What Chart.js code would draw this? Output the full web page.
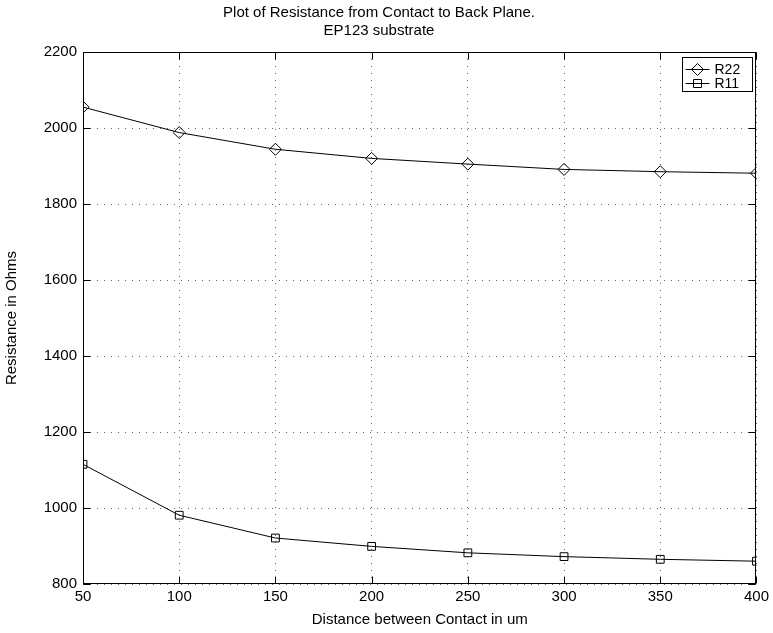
<!DOCTYPE html>
<html><head><meta charset="utf-8">
<script src="https://cdn.jsdelivr.net/npm/chart.js@4.4.1/dist/chart.umd.min.js"></script>
<style>html,body{margin:0;padding:0;background:#fff;overflow:hidden}#wrap{width:773px;height:633px}</style>
</head><body><div id="wrap"><canvas id="c" width="773" height="633"></canvas></div>
<script>
const distances = [50, 100, 150, 200, 250, 300, 350, 400];
const r22 = [2055, 1988, 1944, 1920, 1905, 1891, 1885, 1881];
const r11 = [1115, 981, 921, 899, 882, 872, 865, 860];
const xTicks = [50, 100, 150, 200, 250, 300, 350, 400];
const yTicks = [800, 1000, 1200, 1400, 1600, 1800, 2000, 2200];
const titleLines = ['Plot of Resistance from Contact to Back Plane.', 'EP123 substrate'];
const xTitle = 'Distance between Contact in um';
const yTitle = 'Resistance in Ohms';
const seriesNames = ['R22', 'R11'];

const FONT = "'Liberation Sans', Arial, Helvetica, sans-serif";
Chart.defaults.font.family = FONT;
Chart.defaults.color = '#000';

const toPts = arr => distances.map((d, i) => ({x: d, y: arr[i]}));

const frameAndLegend = {
  id: 'frameAndLegend',
  afterDraw(chart) {
    const ctx = chart.ctx, a = chart.chartArea;
    const xs = chart.scales.x, ys = chart.scales.y;
    const L = Math.round(a.left) + 0.5, R = Math.round(a.right) - 0.5;
    const T = Math.round(a.top) + 0.5, B = Math.round(a.bottom) - 0.5;
    ctx.save();
    ctx.strokeStyle = '#000';
    ctx.lineWidth = 1;
    ctx.setLineDash([]);
    ctx.strokeRect(L, T, R - L, B - T);
    const tl = 7;
    ctx.beginPath();
    xTicks.forEach(v => {
      const px = Math.round(xs.getPixelForValue(v)) + 0.5;
      ctx.moveTo(px, B); ctx.lineTo(px, B - tl);
      ctx.moveTo(px, T); ctx.lineTo(px, T + tl);
    });
    yTicks.forEach(v => {
      const py = Math.round(ys.getPixelForValue(v)) + 0.5;
      ctx.moveTo(L, py); ctx.lineTo(L + tl, py);
      ctx.moveTo(R, py); ctx.lineTo(R - tl, py);
    });
    ctx.stroke();

    // legend
    const bx = 682.5, by = 57.5, bw = 70, bh = 34;
    ctx.fillStyle = '#fff';
    ctx.fillRect(bx, by, bw, bh);
    ctx.strokeRect(bx, by, bw, bh);
    ctx.font = '14px ' + FONT;
    ctx.textBaseline = 'middle';
    ctx.textAlign = 'left';
    chart.data.datasets.forEach((ds, i) => {
      const cy = Math.round(by + 11 + i * 14) + 0.5;
      ctx.beginPath();
      ctx.moveTo(bx + 3, cy); ctx.lineTo(bx + 27, cy);
      ctx.stroke();
      const cx = bx + 15;
      ctx.beginPath();
      if (ds.pointStyle === 'rectRot') {
        const r = 6;
        ctx.moveTo(cx - r, cy); ctx.lineTo(cx, cy - r); ctx.lineTo(cx + r, cy); ctx.lineTo(cx, cy + r); ctx.closePath();
      } else {
        const h = 4;
        ctx.rect(cx - h, cy - h, 2 * h, 2 * h);
      }
      ctx.stroke();
      ctx.fillStyle = '#000';
      ctx.fillText(ds.label, bx + 32, cy + 0.5);
    });
    ctx.restore();
  }
};

new Chart(document.getElementById('c'), {
  type: 'line',
  data: {
    datasets: [
      {label: seriesNames[0], data: toPts(r22), borderColor: '#000', borderWidth: 1, pointStyle: 'rectRot', pointRadius: 6, pointBorderColor: '#000', pointBackgroundColor: 'rgba(0,0,0,0)', pointBorderWidth: 1, tension: 0, fill: false},
      {label: seriesNames[1], data: toPts(r11), borderColor: '#000', borderWidth: 1, pointStyle: 'rect', pointRadius: 5.5, pointBorderColor: '#000', pointBackgroundColor: 'rgba(0,0,0,0)', pointBorderWidth: 1, tension: 0, fill: false}
    ]
  },
  options: {
    responsive: false,
    animation: false,
    devicePixelRatio: 1,
    layout: {padding: {left: 0, right: 15, top: 0, bottom: 0}},
    plugins: {
      legend: {display: false},
      tooltip: {enabled: false},
      title: {display: true, text: titleLines, color: '#000', font: {size: 15, weight: 'normal', family: FONT}, padding: {top: 4, bottom: 12}}
    },
    scales: {
      x: {
        type: 'linear', min: 50, max: 400,
        afterBuildTicks: s => { s.ticks = xTicks.map(v => ({value: v})); },
        afterFit: s => { s.height = 49; },
        ticks: {font: {size: 15}, color: '#000', padding: 4, maxRotation: 0, callback: v => String(v)},
        grid: {drawTicks: false, color: '#666', lineWidth: 1},
        border: {display: false, dash: [1, 6]},
        title: {display: true, text: xTitle, color: '#000', font: {size: 15}, padding: {top: 0, bottom: 4}}
      },
      y: {
        type: 'linear', min: 800, max: 2200,
        afterBuildTicks: s => { s.ticks = yTicks.map(v => ({value: v})); },
        afterFit: s => { s.width = 83; },
        ticks: {font: {size: 15}, color: '#000', padding: 6, callback: v => String(v)},
        grid: {drawTicks: false, color: '#666', lineWidth: 1},
        border: {display: false, dash: [1, 6]},
        title: {display: true, text: yTitle, color: '#000', font: {size: 15}, padding: {top: 3, bottom: 0}}
      }
    }
  },
  plugins: [frameAndLegend]
});
</script></body></html>
